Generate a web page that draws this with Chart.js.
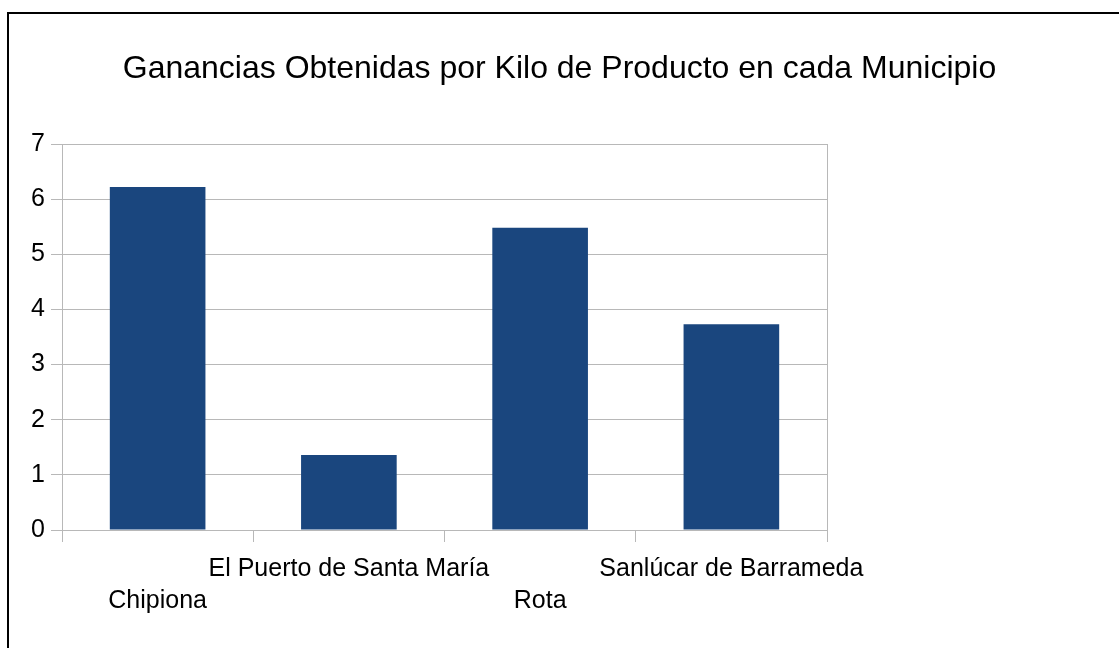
<!DOCTYPE html>
<html>
<head>
<meta charset="utf-8">
<script src="https://cdn.jsdelivr.net/npm/chart.js@4"></script>
<style>
    html, body { margin: 0; padding: 0; background: #fff; overflow: hidden; }
    #wrap { position: relative; width: 1119px; height: 648px; }
    #frame { position: absolute; left: 7px; top: 12px; width: 1140px; height: 700px; border: 2px solid #000; box-sizing: border-box; pointer-events: none; }
    canvas { position: absolute; left: 0; top: 0; }
</style>
</head>
<body>
<div id="wrap">
    <canvas id="gananciasChart" width="1119" height="648"></canvas>
    <div id="frame"></div>
</div>
<script>
// Datos del gráfico
const titulo = 'Ganancias Obtenidas por Kilo de Producto en cada Municipio';
const municipios = ['Chipiona', 'El Puerto de Santa María', 'Rota', 'Sanlúcar de Barrameda'];
const ganancias = [6.22, 1.36, 5.48, 3.73];
const yTicks = [0, 1, 2, 3, 4, 5, 6, 7];

document.addEventListener("DOMContentLoaded", function () {
    const canvas = document.getElementById('gananciasChart');
    if (!canvas) {
        console.error("Element gananciasChart introuvable.");
        return;
    }

    // etiquetas escalonadas: pares abajo, impares arriba
    const etiquetas = municipios.map((m, i) => i % 2 === 0 ? ['', m] : [m]);
    const gris = '#b8b8b8';
    const fuente = 'Arial, "Liberation Sans", sans-serif';

    new Chart(canvas.getContext('2d'), {
        type: 'bar',
        data: {
            labels: etiquetas,
            datasets: [{
                data: ganancias,
                backgroundColor: '#1a467e',
                borderWidth: 0,
                barPercentage: 0.5,
                categoryPercentage: 1
            }]
        },
        options: {
            responsive: false,
            animation: false,
            layout: { padding: 0 },
            plugins: {
                legend: { display: false },
                tooltip: { enabled: false },
                title: {
                    display: true,
                    text: titulo,
                    color: '#000',
                    font: { family: fuente, size: 32, weight: 'normal', lineHeight: 1.2 },
                    padding: { top: 50, bottom: 55.6 }
                }
            },
            scales: {
                x: {
                    grid: {
                        offset: true,
                        drawOnChartArea: false,
                        tickLength: 12,
                        tickColor: gris,
                        color: gris
                    },
                    border: { display: true, color: gris },
                    ticks: {
                        color: '#000',
                        maxRotation: 0,
                        autoSkip: false,
                        padding: 11,
                        font: { family: fuente, size: 25, lineHeight: '32px' }
                    },
                    afterFit: function (scale) { scale.height = 118; }
                },
                y: {
                    min: 0,
                    max: 7,
                    afterBuildTicks: function (scale) {
                        scale.ticks = yTicks.map(v => ({ value: v }));
                    },
                    grid: { color: gris, tickLength: 11 },
                    border: { display: true, color: gris },
                    ticks: {
                        color: '#000',
                        padding: 6,
                        font: { family: fuente, size: 25 }
                    },
                    afterFit: function (scale) { scale.width = 62; }
                },
                derecha: {
                    position: 'right',
                    min: 0,
                    max: 7,
                    grid: { display: false },
                    border: { display: true, color: gris },
                    ticks: { display: false },
                    afterFit: function (scale) { scale.width = 292; }
                }
            }
        }
    });
});
</script>
</body>
</html>
